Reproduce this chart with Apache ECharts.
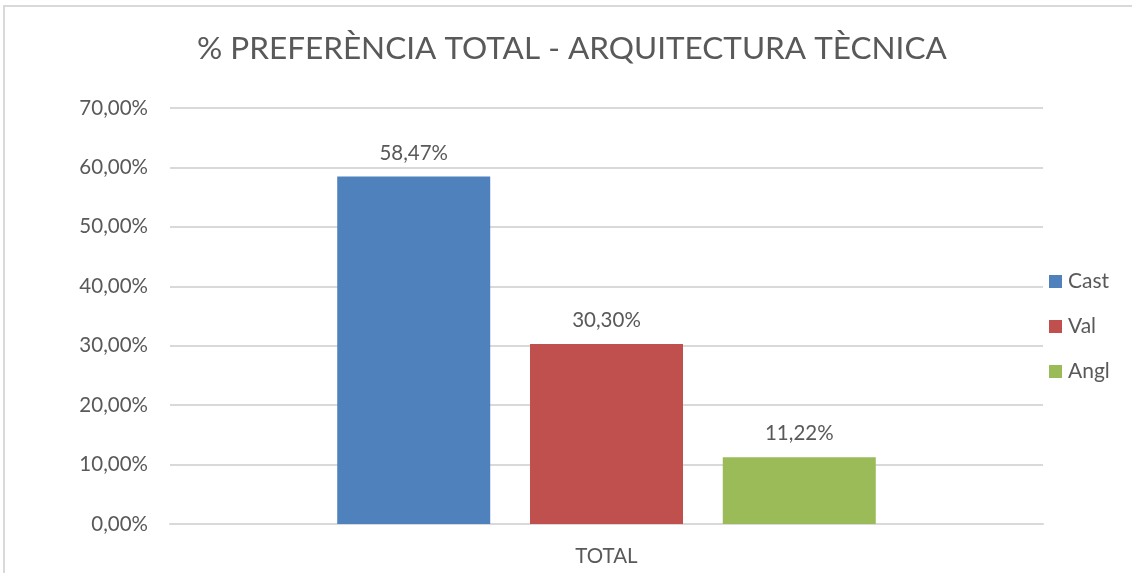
<!DOCTYPE html>
<html>
<head>
<meta charset="utf-8">
<script src="https://cdn.jsdelivr.net/npm/echarts@6/dist/echarts.min.js"></script>
<style>
    html, body { margin: 0; padding: 0; background: #fff; }
    #frame {
        position: absolute; left: 3px; top: 5px; width: 1140px; height: 580px;
        border-left: 2px solid #d9d9d9; border-top: 2px solid #d9d9d9;
    }
    #chart { position: absolute; left: 0; top: 0; width: 1132px; height: 573px; }
</style>
</head>
<body>
<div id="frame"></div>
<div id="chart"></div>
<script>
const categories = ['TOTAL']
const seriesNames = ['Cast', 'Val', 'Angl']
const seriesValues = [[58.47], [30.30], [11.22]]
const seriesColors = ['#4f81bd', '#c0504d', '#9bbb59']

const fontFamily = 'Lato, "Liberation Sans", sans-serif'
const textColor = '#595959'

function pct(v) {
    return v.toFixed(2).replace('.', ',') + '%'
}

const chartInstance = echarts.init(document.getElementById('chart'))

const options = {
    animation: false,
    title: {
        text: '% PREFERÈNCIA TOTAL - ARQUITECTURA TÈCNICA',
        left: 192,
        top: 28,
        textStyle: {
            color: textColor,
            fontSize: 31.5,
            fontWeight: 'normal',
            fontFamily: fontFamily
        }
    },
    legend: {
        orient: 'vertical',
        left: 1049,
        top: 271,
        padding: 0,
        itemWidth: 13,
        itemHeight: 13,
        itemGap: 24,
        icon: 'rect',
        data: seriesNames,
        textStyle: {
            color: textColor,
            fontSize: 21,
            fontFamily: fontFamily,
            padding: [0, 0, 0, 1]
        }
    },
    grid: {
        left: 170,
        right: 89,
        top: 108,
        bottom: 49,
        containLabel: false
    },
    xAxis: {
        type: 'category',
        data: categories,
        axisTick: { show: false },
        axisLine: { lineStyle: { color: '#d9d9d9', width: 2 } },
        axisLabel: {
            color: textColor,
            fontSize: 20.5,
            fontFamily: fontFamily,
            margin: 22
        }
    },
    yAxis: {
        type: 'value',
        min: 0,
        max: 70,
        interval: 10,
        axisLine: { show: false },
        axisTick: { show: false },
        splitLine: { lineStyle: { color: '#d9d9d9', width: 2 } },
        axisLabel: {
            color: textColor,
            fontSize: 20.5,
            fontFamily: fontFamily,
            margin: 22,
            formatter: v => pct(v)
        }
    },
    series: seriesNames.map((name, i) => ({
        name: name,
        type: 'bar',
        barWidth: 153,
        barGap: '26%',
        data: seriesValues[i],
        itemStyle: { color: seriesColors[i] },
        label: {
            show: true,
            position: 'top',
            distance: 13,
            color: textColor,
            fontSize: 20.5,
            fontFamily: fontFamily,
            formatter: p => pct(p.value)
        }
    }))
}

chartInstance.setOption(options)
</script>
</body>
</html>
